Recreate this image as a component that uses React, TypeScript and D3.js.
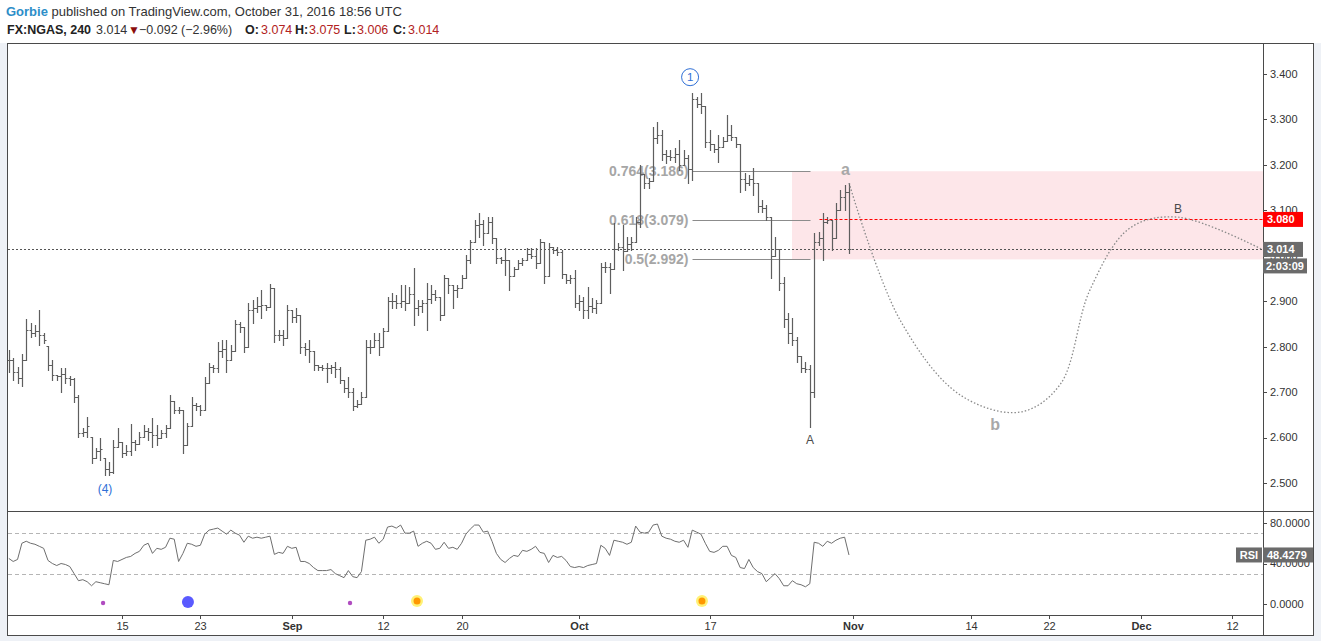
import React from "react";
import * as d3 from "d3";

// ---------- DATA ----------
const BAR_START_DATE = "2016-08-02";
const BAR_START_SLOT = 1;
const BARS_PER_DAY = 3;
const CAL_START = "2016-08-01";

const highs = [
  2.793, 2.775, 2.755, 2.784, 2.861, 2.852, 2.848, 2.881, 2.830, 2.802,
  2.771, 2.738, 2.753, 2.753, 2.736, 2.731, 2.694, 2.621, 2.645, 2.601,
  2.577, 2.599, 2.555, 2.546, 2.595, 2.621, 2.590, 2.584, 2.630, 2.595,
  2.612, 2.628, 2.621, 2.643, 2.628, 2.617, 2.628, 2.694, 2.680, 2.667,
  2.660, 2.632, 2.689, 2.676, 2.672, 2.733, 2.764, 2.760, 2.810, 2.815,
  2.815, 2.804, 2.859, 2.854, 2.843, 2.896, 2.903, 2.909, 2.925, 2.892,
  2.938, 2.930, 2.837, 2.837, 2.892, 2.881, 2.885, 2.870, 2.808, 2.815,
  2.790, 2.760, 2.760, 2.764, 2.760, 2.766, 2.755, 2.727, 2.733, 2.709,
  2.683, 2.700, 2.815, 2.815, 2.830, 2.830, 2.841, 2.909, 2.918, 2.914,
  2.936, 2.936, 2.931, 2.973, 2.903, 2.903, 2.940, 2.936, 2.925, 2.910,
  2.958, 2.950, 2.935, 2.936, 2.958, 3.002, 3.035, 3.079, 3.094, 3.079,
  3.085, 3.085, 3.040, 2.997, 3.017, 2.990, 2.975, 2.991, 2.995, 3.017,
  3.017, 3.017, 3.037, 3.030, 3.028, 3.020, 3.019, 3.013, 2.960, 2.958,
  2.969, 2.914, 2.909, 2.931, 2.907, 2.903, 2.984, 2.986, 2.984, 3.072,
  3.028, 3.068, 3.041, 3.041, 3.085, 3.200, 3.180, 3.171, 3.283, 3.294,
  3.277, 3.233, 3.233, 3.237, 3.255, 3.233, 3.222, 3.358, 3.349, 3.358,
  3.330, 3.277, 3.245, 3.266, 3.261, 3.310, 3.288, 3.262, 3.245, 3.182,
  3.178, 3.193, 3.160, 3.123, 3.112, 3.085, 3.041, 3.015, 2.953, 2.874,
  2.863, 2.821, 2.780, 2.766, 2.760, 3.050, 3.052, 3.094, 3.085, 3.079,
  3.116, 3.145, 3.156, 3.160,
];
const lows = [
  2.744, 2.727, 2.720, 2.713, 2.771, 2.821, 2.824, 2.804, 2.808, 2.749,
  2.727, 2.727, 2.700, 2.720, 2.716, 2.678, 2.601, 2.604, 2.601, 2.544,
  2.555, 2.551, 2.518, 2.518, 2.522, 2.579, 2.557, 2.562, 2.562, 2.573,
  2.586, 2.601, 2.595, 2.579, 2.584, 2.599, 2.601, 2.621, 2.654, 2.654,
  2.566, 2.584, 2.625, 2.661, 2.650, 2.660, 2.720, 2.744, 2.744, 2.777,
  2.744, 2.770, 2.790, 2.832, 2.788, 2.800, 2.852, 2.876, 2.863, 2.881,
  2.887, 2.810, 2.815, 2.804, 2.820, 2.854, 2.854, 2.786, 2.782, 2.766,
  2.749, 2.749, 2.749, 2.722, 2.742, 2.733, 2.720, 2.700, 2.689, 2.661,
  2.667, 2.674, 2.690, 2.786, 2.799, 2.782, 2.800, 2.835, 2.885, 2.885,
  2.887, 2.881, 2.895, 2.848, 2.870, 2.876, 2.837, 2.896, 2.903, 2.859,
  2.870, 2.918, 2.885, 2.909, 2.930, 2.950, 2.984, 3.030, 3.041, 3.024,
  3.050, 3.028, 2.984, 2.984, 2.958, 2.925, 2.955, 2.970, 2.980, 2.990,
  2.995, 2.973, 2.985, 2.940, 2.955, 3.006, 3.002, 2.951, 2.940, 2.940,
  2.887, 2.881, 2.863, 2.863, 2.876, 2.874, 2.895, 2.964, 2.918, 2.970,
  3.013, 2.969, 3.010, 3.013, 3.030, 3.063, 3.149, 3.149, 3.165, 3.248,
  3.211, 3.204, 3.211, 3.206, 3.189, 3.200, 3.160, 3.167, 3.327, 3.314,
  3.239, 3.233, 3.228, 3.206, 3.240, 3.252, 3.255, 3.239, 3.140, 3.145,
  3.156, 3.134, 3.096, 3.096, 3.079, 2.951, 3.000, 2.925, 2.843, 2.808,
  2.804, 2.766, 2.744, 2.744, 2.623, 2.690, 3.024, 2.991, 3.072, 3.013,
  3.040, 3.100, 3.101, 3.006,
];
const closes = [
  2.771, 2.744, 2.731, 2.771, 2.837, 2.830, 2.835, 2.826, 2.815, 2.760,
  2.738, 2.735, 2.740, 2.731, 2.729, 2.690, 2.610, 2.612, 2.625, 2.555,
  2.570, 2.574, 2.530, 2.525, 2.580, 2.590, 2.566, 2.570, 2.590, 2.586,
  2.601, 2.614, 2.612, 2.605, 2.599, 2.610, 2.621, 2.680, 2.660, 2.661,
  2.584, 2.625, 2.672, 2.670, 2.660, 2.720, 2.755, 2.753, 2.790, 2.795,
  2.770, 2.790, 2.850, 2.843, 2.800, 2.880, 2.885, 2.890, 2.892, 2.887,
  2.930, 2.825, 2.826, 2.820, 2.880, 2.865, 2.870, 2.800, 2.795, 2.790,
  2.760, 2.755, 2.754, 2.752, 2.755, 2.750, 2.727, 2.710, 2.700, 2.670,
  2.674, 2.690, 2.800, 2.800, 2.815, 2.800, 2.835, 2.900, 2.900, 2.895,
  2.900, 2.895, 2.915, 2.885, 2.890, 2.895, 2.905, 2.915, 2.910, 2.870,
  2.950, 2.935, 2.925, 2.930, 2.950, 2.990, 3.030, 3.068, 3.070, 3.050,
  3.075, 3.040, 2.995, 2.990, 2.990, 2.955, 2.970, 2.985, 2.990, 3.005,
  3.000, 2.985, 3.030, 2.955, 3.020, 3.012, 3.008, 2.960, 2.946, 2.950,
  2.895, 2.900, 2.880, 2.890, 2.885, 2.895, 2.975, 2.975, 2.970, 3.015,
  3.020, 3.010, 3.025, 3.030, 3.075, 3.180, 3.160, 3.165, 3.260, 3.265,
  3.225, 3.220, 3.218, 3.225, 3.200, 3.215, 3.190, 3.345, 3.335, 3.330,
  3.250, 3.245, 3.236, 3.240, 3.252, 3.265, 3.262, 3.245, 3.170, 3.160,
  3.170, 3.160, 3.110, 3.105, 3.085, 3.000, 3.015, 2.940, 2.860, 2.830,
  2.815, 2.780, 2.752, 2.750, 2.700, 3.030, 3.040, 3.075, 3.078, 3.040,
  3.100, 3.130, 3.140, 3.014,
];
const rsiValues = [
  45, 42, 44, 60, 62, 60, 59, 57, 55, 43,
  40, 38, 40, 39, 37, 30, 23, 24, 22, 18,
  22, 21, 20, 19, 43, 42, 44, 46, 47, 50,
  52, 58, 60, 50, 55, 54, 56, 65, 64, 42,
  50, 60, 59, 57, 58, 69, 73, 74, 75, 72,
  69, 73, 70, 68, 61, 67, 65, 66, 65, 66,
  67, 49, 51, 50, 57, 55, 56, 42, 42, 40,
  36, 33, 33, 33, 34, 30, 28, 26, 33, 27,
  26, 32, 63, 64, 66, 60, 64, 76, 77, 75,
  78, 70, 70, 72, 57, 60, 62, 60, 54, 55,
  61, 55, 56, 54, 60, 69, 74, 78, 78, 71,
  72, 62, 50, 44, 41, 45, 48, 47, 53, 52,
  54, 57, 51, 50, 41, 48, 46, 47, 43, 37,
  36, 37, 36, 38, 39, 40, 58, 55, 48, 63,
  62, 61, 59, 61, 77, 71, 70, 71, 78, 79,
  67, 65, 64, 62, 61, 63, 56, 73, 71, 69,
  60, 52, 51, 53, 57, 57, 48, 46, 36, 35,
  44, 36, 32, 30, 22, 26, 30, 25, 18, 18,
  23, 20, 19, 17, 20, 61, 60, 57, 62, 60,
  63, 65, 66, 48.4279,
];

const priceTicks = [2.5, 2.6, 2.7, 2.8, 2.9, 3.0, 3.1, 3.2, 3.3, 3.4];
const rsiTicks = [0, 40, 80];
const rsiBands = [30, 70];
const timeTickDates = ["2016-08-15", "2016-08-23", "2016-09-01", "2016-09-12", "2016-09-20", "2016-10-03", "2016-10-17", "2016-11-01", "2016-11-14", "2016-11-22", "2016-12-01", "2016-12-12"];
const timeTickLabels = ["15", "23", "Sep", "12", "20", "Oct", "17", "Nov", "14", "22", "Dec", "12"];
const timeTickIsMonth = [false, false, true, false, false, true, false, true, false, false, true, false];

const fibRatios = ["0.764", "0.618", "0.5"];
const fibPrices = [3.186, 3.079, 2.992];
const fibFromBar = 157;
const fibToBar = 184;
const zoneFromBar = 180;
const zoneTop = 3.186;
const zoneBottom = 2.992;

const lastPrice = 3.014;
const targetPrice = 3.08;
const targetFromBar = 186;
const countdown = "2:03:09";
const lastRsi = 48.4279;

const projDates = ["2016-10-31", "2016-11-04", "2016-11-11", "2016-11-17", "2016-11-22", "2016-11-25", "2016-11-30", "2016-12-05", "2016-12-14"];
const projFrac = [0.67, 0.57, 0.17, 0.76, 0.82, 0.12, 0.18, 0.86, 0.37];
const projPrices = [3.16, 2.859, 2.694, 2.656, 2.716, 2.925, 3.061, 3.085, 3.013];

const waveTexts = ["(4)", "1", "A", "a", "b", "B"];
const waveDates = ["2016-08-11", "2016-10-13", "2016-10-26", "2016-10-31", "2016-11-15", "2016-12-05"];
const waveFrac = [0.7, 0.5, 0.68, 0.4, 0.85, 0.86];
const wavePrices = [2.487, 3.393, 2.595, 3.189, 2.628, 3.103];
const waveKinds = ["blue", "circle", "dark", "light", "light", "dark"];

const eventDates = ["2016-08-11", "2016-08-22", "2016-09-07", "2016-09-14", "2016-10-14"];
const eventFrac = [0.55, 0.05, 0.46, 0.59, 0.41];
const eventKinds = ["minor", "major", "minor", "earn", "earn"];

// ---------- HELPERS ----------
function parseD(s) {
  const [y, m, d] = s.split("-").map(Number);
  return Date.UTC(y, m - 1, d);
}
function tIdx(s) {
  const start = parseD(CAL_START);
  const end = parseD(s);
  let n = 0;
  for (let t = start; t < end; t += 86400000) {
    const wd = new Date(t).getUTCDay();
    if (wd !== 0 && wd !== 6) n++;
  }
  return n;
}
const barStartDay = tIdx(BAR_START_DATE);
const barDay = (i) => barStartDay + (BAR_START_SLOT + i) / BARS_PER_DAY;

const FONT = "'Liberation Sans', Arial, sans-serif";

export default function App() {
  const W = 1321, H = 641;
  const frameL = 7, frameR = 1314, frameT = 43, frameB = 636;
  const plotL = 8, plotR = 1263;
  const mainT = 43, mainB = 511;
  const rsiT = 512, rsiB = 615;

  const x = d3.scaleLinear().domain([1.27, 97.37]).range([plotL, plotR]);
  const y = d3.scaleLinear().domain([2.4384, 3.4682]).range([mainB, mainT]);
  const yr = d3.scaleLinear().domain([-10.9, 90.9]).range([rsiB, rsiT]);

  const px = (v) => Math.round(v) + 0.5;

  // OHLC path
  let barPath = "";
  for (let i = 0; i < closes.length; i++) {
    const cx = px(x(barDay(i)));
    const hi = y(highs[i]), lo = y(lows[i]);
    const o = i === 0 ? closes[i] : Math.min(highs[i], Math.max(lows[i], closes[i - 1]));
    const yo = Math.round(y(o)) + 0.5, yc = Math.round(y(closes[i])) + 0.5;
    barPath += `M${cx},${Math.round(hi)}V${Math.round(lo) + 1}M${cx - 2},${yo}H${cx}M${cx},${yc}H${cx + 2}`;
  }

  const rsiLine = d3.line()
    .x((d, i) => x(barDay(i)))
    .y((d) => yr(d))(rsiValues);

  const projPts = projDates.map((d, i) => [x(tIdx(d) + projFrac[i]), y(projPrices[i])]);
  const projPath = d3.line().curve(d3.curveCatmullRom.alpha(0.5))(projPts);

  const xFibFrom = px(x(barDay(fibFromBar)));
  const xFibTo = px(x(barDay(fibToBar)));
  const xZone = Math.round(x(barDay(zoneFromBar)));

  const gridColor = "#4a4a4a";
  const red = "#b22222";

  return (
    <div style={{ position: "absolute", left: 0, top: 0 }}>
      <style>{"body{margin:0;background:#fff}"}</style>
      <svg width={W} height={H} style={{ display: "block", fontFamily: FONT }}>
        <rect x={0} y={0} width={W} height={H} fill="#eef1f6" />
        <rect x={0} y={0} width={W} height={frameT} fill="#ffffff" />
        <rect x={frameL} y={frameT} width={frameR - frameL} height={frameB - frameT} fill="#ffffff" />

        {/* header */}
        <text x={6} y={16} fontSize={13} fill="#333">
          <tspan fill="#2d8ec8" fontWeight="bold">Gorbie</tspan>
          <tspan> published on TradingView.com, October 31, 2016 18:56 UTC</tspan>
        </text>
        <text y={34} fontSize={12.5} fill="#333">
          <tspan x={7} fontWeight="bold" fill="#222">FX:NGAS, 240</tspan>
          <tspan x={96}>3.014</tspan>
          <tspan x={128} fill="#8b0d0d" fontSize={12}>▼</tspan>
          <tspan x={139}>−0.092 (−2.96%)</tspan>
          <tspan x={245} fontWeight="bold" fill="#222">O:</tspan>
          <tspan x={261} fill={red}>3.074</tspan>
          <tspan x={295} fontWeight="bold" fill="#222">H:</tspan>
          <tspan x={309} fill={red}>3.075</tspan>
          <tspan x={344} fontWeight="bold" fill="#222">L:</tspan>
          <tspan x={357} fill={red}>3.006</tspan>
          <tspan x={393} fontWeight="bold" fill="#222">C:</tspan>
          <tspan x={408} fill={red}>3.014</tspan>
        </text>

        <defs>
          <clipPath id="mainClip">
            <rect x={plotL} y={mainT} width={plotR - plotL} height={mainB - mainT} />
          </clipPath>
          <clipPath id="rsiClip">
            <rect x={plotL} y={rsiT} width={plotR - plotL} height={rsiB - rsiT} />
          </clipPath>
        </defs>

        {/* main pane */}
        <g clipPath="url(#mainClip)">
          <rect x={xZone} y={y(zoneTop)} width={plotR - xZone} height={y(zoneBottom) - y(zoneTop)} fill="#fde6e9" />
          {fibPrices.map((p, i) => (
            <g key={"fib" + i}>
              <line x1={xFibFrom} x2={xFibTo} y1={px(y(p))} y2={px(y(p))} stroke="#8c8c8c" strokeWidth={1} />
              <text x={xFibFrom - 4} y={y(p)} dy="0.35em" textAnchor="end" fontSize={14} fill="#a6a6a6" fontWeight="bold">
                {fibRatios[i]}({p.toFixed(3)})
              </text>
            </g>
          ))}
          <line x1={plotL} x2={plotR} y1={px(y(lastPrice))} y2={px(y(lastPrice))} stroke="#555" strokeDasharray="2,2" strokeWidth={1} />
          <path d={barPath} stroke="#5e5e5e" strokeWidth={1.2} fill="none" />
          <line x1={px(x(barDay(targetFromBar)))} x2={plotR} y1={px(y(targetPrice))} y2={px(y(targetPrice))} stroke="#ff0000" strokeDasharray="3,2" strokeWidth={1} />
          <path d={projPath} stroke="#8a8a8a" strokeWidth={1.3} strokeDasharray="1.5,2" fill="none" />
          {waveTexts.map((t, i) => {
            const cx = x(tIdx(waveDates[i]) + waveFrac[i]);
            const cy = y(wavePrices[i]);
            const k = waveKinds[i];
            if (k === "circle") {
              return (
                <g key={"w" + i}>
                  <circle cx={cx} cy={cy} r={8.5} fill="#fff" stroke="#2f6fd6" strokeWidth={1} />
                  <text x={cx} y={cy} dy="0.36em" textAnchor="middle" fontSize={11.5} fill="#2f6fd6">{t}</text>
                </g>
              );
            }
            const color = k === "blue" ? "#2f6fd6" : k === "dark" ? "#4a4a4a" : "#a8a8a8";
            const fs = k === "light" ? 16 : 12;
            return (
              <text key={"w" + i} x={cx} y={cy} dy="0.35em" textAnchor="middle" fontSize={fs} fontWeight={k === "light" ? "bold" : "normal"} fill={color}>{t}</text>
            );
          })}
        </g>

        {/* RSI pane */}
        <g clipPath="url(#rsiClip)">
          {rsiBands.map((b) => (
            <line key={"band" + b} x1={plotL} x2={plotR} y1={px(yr(b))} y2={px(yr(b))} stroke="#b5b5b5" strokeDasharray="4,3" />
          ))}
          <path d={rsiLine} stroke="#6e6e6e" strokeWidth={1} fill="none" />
          {eventDates.map((d, i) => {
            const cx = x(tIdx(d) + eventFrac[i]);
            const cy = yr(1);
            const k = eventKinds[i];
            if (k === "minor") return <circle key={"e" + i} cx={cx} cy={cy} r={2.2} fill="#b04cc0" />;
            if (k === "major") return <circle key={"e" + i} cx={cx} cy={cy - 1} r={6} fill="#5a5aff" />;
            return (
              <g key={"e" + i}>
                <circle cx={cx} cy={cy - 2} r={6} fill="#fff176" />
                <circle cx={cx} cy={cy - 2} r={3.5} fill="#ff9800" />
              </g>
            );
          })}
        </g>

        {/* frame lines */}
        <g stroke={gridColor} strokeWidth={1} fill="none">
          <rect x={frameL + 0.5} y={frameT + 0.5} width={frameR - frameL - 1} height={frameB - frameT - 1} />
          <line x1={plotR + 0.5} x2={plotR + 0.5} y1={frameT} y2={frameB} />
          <line x1={frameL} x2={frameR} y1={mainB + 0.5} y2={mainB + 0.5} />
          <line x1={frameL} x2={plotR} y1={rsiB + 0.5} y2={rsiB + 0.5} />
        </g>

        {/* price axis */}
        {priceTicks.map((t) => (
          <g key={"pt" + t}>
            <line x1={plotR} x2={plotR + 4} y1={px(y(t))} y2={px(y(t))} stroke={gridColor} />
            <text x={plotR + 7} y={y(t)} dy="0.35em" fontSize={11} fill="#333">{t.toFixed(3)}</text>
          </g>
        ))}
        <g>
          <rect x={plotR} y={y(targetPrice) - 7.5} width={40} height={15} fill="#ff0000" />
          <text x={plotR + 4} y={y(targetPrice)} dy="0.36em" fontSize={11} fontWeight="bold" fill="#fff">{targetPrice.toFixed(3)}</text>
          <rect x={plotR} y={y(lastPrice) - 7.5} width={40} height={15} fill="#6b6b6b" />
          <text x={plotR + 4} y={y(lastPrice)} dy="0.36em" fontSize={11} fontWeight="bold" fill="#fff">{lastPrice.toFixed(3)}</text>
          <rect x={plotR} y={y(lastPrice) + 9} width={44} height={15} fill="#6b6b6b" />
          <text x={plotR + 3} y={y(lastPrice) + 16.5} dy="0.36em" fontSize={11} fontWeight="bold" fill="#fff">{countdown}</text>
        </g>

        {/* RSI axis */}
        {rsiTicks.map((t) => (
          <g key={"rt" + t}>
            <line x1={plotR} x2={plotR + 4} y1={px(yr(t))} y2={px(yr(t))} stroke={gridColor} />
            <text x={plotR + 7} y={yr(t)} dy="0.35em" fontSize={11} fill="#333">{t.toFixed(4)}</text>
          </g>
        ))}
        <rect x={plotR} y={yr(lastRsi) - 7.5} width={50} height={15} fill="#6b6b6b" />
        <text x={plotR + 4} y={yr(lastRsi)} dy="0.36em" fontSize={11} fontWeight="bold" fill="#fff">{lastRsi.toFixed(4)}</text>
        <rect x={plotR - 27} y={yr(lastRsi) - 7.5} width={26} height={15} fill="#6b6b6b" />
        <text x={plotR - 14} y={yr(lastRsi)} dy="0.36em" textAnchor="middle" fontSize={11} fontWeight="bold" fill="#fff">RSI</text>

        {/* time axis */}
        {timeTickDates.map((d, i) => {
          const tx = px(x(tIdx(d)));
          return (
            <g key={"tt" + i}>
              <line x1={tx} x2={tx} y1={rsiB} y2={rsiB + 4} stroke={gridColor} />
              <text x={tx} y={626} dy="0.35em" textAnchor="middle" fontSize={11} fontWeight={timeTickIsMonth[i] ? "bold" : "normal"} fill="#333">{timeTickLabels[i]}</text>
            </g>
          );
        })}
      </svg>
    </div>
  );
}
